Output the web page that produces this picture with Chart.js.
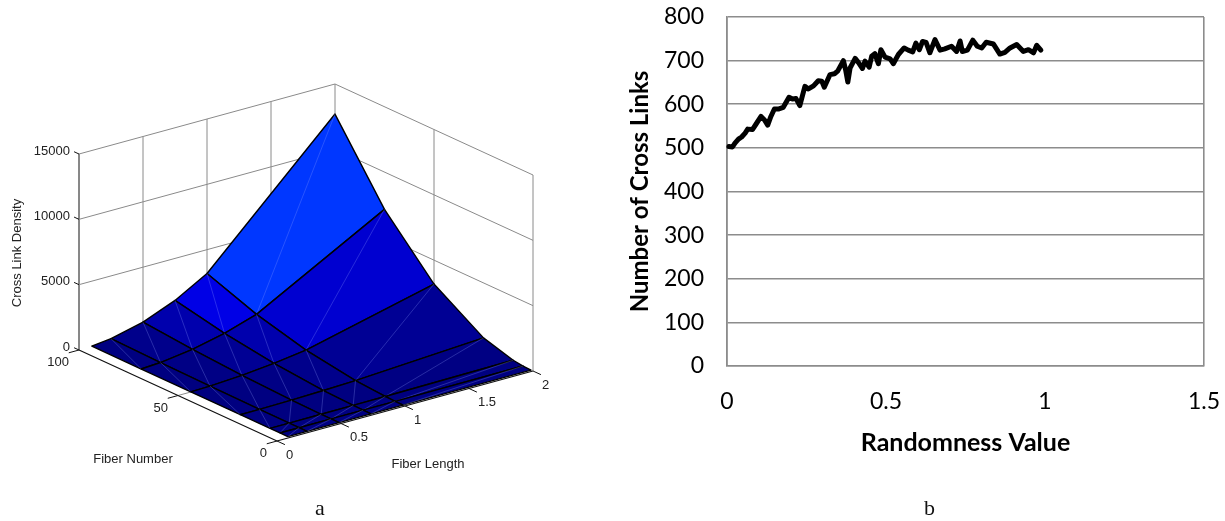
<!DOCTYPE html>
<html>
<head>
<meta charset="utf-8">
<script src="https://cdn.jsdelivr.net/npm/chart.js@4"></script>
<style>
html,body{margin:0;padding:0;background:#fff;width:1225px;height:521px;overflow:hidden}
#left{position:absolute;left:0;top:0}
#right{position:absolute;left:600px;top:0}
.cap{position:absolute;font:22px "Liberation Serif",serif;color:#111;top:495px}
</style>
</head>
<body>
<canvas id="left" width="600" height="521"></canvas>
<canvas id="right" width="625" height="521"></canvas>
<div class="cap" style="left:315px">a</div>
<div class="cap" style="left:924px">b</div>
<script>
// Panel a: surface values
const fiberLengths = [0.1, 0.25, 0.5, 0.75, 1, 2];
const fiberNumbers = [1, 5, 10, 25, 50, 75, 100];
const densityN1   = [0, 0, 0, 0, 0, 1];
const densityN5   = [0, 0, 2, 4, 8, 32];
const densityN10  = [0, 2, 8, 18, 32, 127];
const densityN25  = [2, 12, 50, 112, 198, 794];
const densityN50  = [8, 50, 198, 446, 794, 3175];
const densityN75  = [18, 112, 447, 1005, 1786, 7144];
const densityN100 = [32, 198, 794, 1786, 3175, 12700];
const densityRows = [densityN1, densityN5, densityN10, densityN25, densityN50, densityN75, densityN100];
const lengthTicks = [0, 0.5, 1, 1.5, 2];
const numberTicks = [0, 50, 100];
const densityTicks = [0, 5000, 10000, 15000];

// Panel b: line values
const randomness = [.006,.017,.025,.036,.046,.057,.065,.08,.09,.107,.118,.128,.138,.149,.161,.177,.195,.206,.217,.229,.245,.256,.272,.287,.298,.306,.324,.338,.348,.366,.373,.38,.387,.403,.413,.426,.434,.447,.455,.465,.476,.484,.497,.513,.523,.539,.557,.57,.584,.594,.605,.615,.626,.638,.654,.67,.685,.706,.722,.733,.74,.756,.773,.787,.801,.815,.838,.858,.874,.89,.911,.932,.948,.964,.974,.987];
const crossLinks = [503,502,511,520,525,534,543,542,553,572,564,552,572,589,589,593,616,612,613,597,641,635,642,654,653,639,668,670,676,700,679,651,683,705,696,682,699,685,710,716,693,725,708,704,693,714,729,724,720,740,725,744,742,718,748,724,727,733,721,745,721,724,747,733,729,742,738,715,719,729,737,721,725,718,735,724];
const xTickValues = [0, 0.5, 1, 1.5];

// Orthographic view of the 3D box
const LMAX = 2, NMAX = 100, ZMAX = 15000;
function project(L, N, Z) {
  return {
    x: 277 + (L / LMAX) * 256 - (N / NMAX) * 198,
    y: 441 - (L / LMAX) * 70 - (N / NMAX) * 91 - (Z / ZMAX) * 196
  };
}
function jet(z) {
  const t = Math.min(1, z / 10000);
  const b = t < .125 ? .5 + 4 * t : 1;
  const g = t < .125 ? 0 : Math.min(1, (t - .125) * 4);
  return `rgb(0,${Math.round(g * 255)},${Math.round(b * 255)})`;
}
function line(points, color, width, extra) {
  return Object.assign({ data: points, showLine: true, borderColor: color, borderWidth: width,
    pointRadius: 0, fill: false, tension: 0, clip: false, borderJoinStyle: 'round' }, extra || {});
}
const GRID = '#8a8a8a', AXIS = '#111';
const drawn = [];
// floor and wall grid
lengthTicks.slice(1, -1).forEach(L => {
  drawn.push(line([project(L, 0, 0), project(L, NMAX, 0)], GRID, 1));
});
drawn.push(line([project(0, 50, 0), project(LMAX, 50, 0)], GRID, 1));
lengthTicks.forEach(L => drawn.push(line([project(L, NMAX, 0), project(L, NMAX, ZMAX)], L === 0 ? AXIS : GRID, 1)));
[0, 50].forEach(N => drawn.push(line([project(LMAX, N, 0), project(LMAX, N, ZMAX)], GRID, 1)));
densityTicks.slice(1).forEach(z => {
  drawn.push(line([project(0, NMAX, z), project(LMAX, NMAX, z)], GRID, 1));
  drawn.push(line([project(LMAX, NMAX, z), project(LMAX, 0, z)], GRID, 1));
});
// axes
drawn.push(line([project(0, NMAX, 0), project(0, 0, 0), project(LMAX, 0, 0)], AXIS, 1.2));
lengthTicks.forEach(L => drawn.push(line([project(L, 0, 0), project(L, -4, 0)], AXIS, 1)));
numberTicks.forEach(N => drawn.push(line([project(0, N, 0), project(-.08, N, 0)], AXIS, 1)));
densityTicks.forEach(z => drawn.push(line([project(0, NMAX, z), project(0, NMAX + 2.5, z)], AXIS, 1)));
// surface, painted from the far corner forward
for (let j = fiberNumbers.length - 2; j >= 0; j--) {
  for (let i = fiberLengths.length - 2; i >= 0; i--) {
    const p = (a, b) => project(fiberLengths[a], fiberNumbers[b], densityRows[b][a]);
    const col = jet(densityRows[j][i]);
    drawn.push(line([p(i, j), p(i + 1, j), p(i + 1, j + 1), p(i, j + 1), p(i, j)], '#000', 1.4,
      { fill: 'shape', backgroundColor: col }));
    drawn.push(line([p(i, j), p(i + 1, j + 1)], 'rgba(150,165,255,.45)', .6));
  }
}
const axisText = {
  id: 'axisText',
  afterDatasetsDraw(chart) {
    const c = chart.ctx, sx = chart.scales.x, sy = chart.scales.y;
    const at = (P, dx, dy) => ({ x: sx.getPixelForValue(P.x) + dx, y: sy.getPixelForValue(P.y) + dy });
    c.save();
    c.font = '13px "Liberation Sans"';
    c.fillStyle = '#222';
    c.textBaseline = 'middle';
    c.textAlign = 'right';
    densityTicks.forEach(z => { const q = at(project(0, NMAX, z), -9, -3); c.fillText(String(z), q.x, q.y); });
    numberTicks.forEach(N => { const q = at(project(0, N, 0), -10, 12.5); c.fillText(String(N), q.x, q.y); });
    c.textAlign = 'left';
    lengthTicks.forEach(L => { const q = at(project(L, 0, 0), 9, 14); c.fillText(String(L), q.x, q.y); });
    c.textAlign = 'center';
    let q = at(project(0, 50, 0), -45, 64); c.fillText('Fiber Number', q.x, q.y);
    q = at(project(1, 0, 0), 23, 58); c.fillText('Fiber Length', q.x, q.y);
    c.translate(17, 253); c.rotate(-Math.PI / 2);
    c.fillText('Cross Link Density', 0, 0);
    c.restore();
  }
};
new Chart(document.getElementById('left'), {
  type: 'scatter',
  data: { datasets: drawn.reverse() },
  plugins: [axisText],
  options: {
    responsive: false, animation: false,
    layout: { padding: 0 },
    plugins: { legend: { display: false }, tooltip: { enabled: false }, filler: { drawTime: 'beforeDatasetDraw' } },
    scales: {
      x: { type: 'linear', min: 0, max: 600, display: false },
      y: { type: 'linear', min: 0, max: 521, reverse: true, display: false }
    }
  }
});

const LBL = '#000', GRIDB = '#8c8c8c';
new Chart(document.getElementById('right'), {
  type: 'scatter',
  data: { datasets: [{
    data: randomness.map((x, i) => ({ x, y: crossLinks[i] })),
    showLine: true, borderColor: '#000', borderWidth: 5, pointRadius: 0, tension: 0,
    borderJoinStyle: 'round', borderCapStyle: 'round', clip: false
  }] },
  options: {
    responsive: false, animation: false,
    layout: { padding: { left: 0, right: 21, top: 17, bottom: 0 } },
    plugins: { legend: { display: false }, tooltip: { enabled: false } },
    scales: {
      x: {
        type: 'linear', min: 0, max: 1.5,
        afterBuildTicks: s => { s.ticks = xTickValues.map(value => ({ value })); },
        afterFit: s => { s.height = 155; s.paddingLeft = 0; s.paddingRight = 0; },
        grid: { color: c => (c.tick && (c.tick.value === 0 || c.tick.value === 1.5)) ? GRIDB : 'rgba(0,0,0,0)', lineWidth: 1.6, drawTicks: false },
        border: { color: GRIDB, width: 1.6 },
        ticks: { color: LBL, font: { family: 'Lato', size: 23 }, padding: 22, maxRotation: 0, callback: v => String(v) },
        title: { display: true, text: 'Randomness Value', color: LBL, font: { family: 'Lato', size: 25, weight: 'bold' }, padding: { top: 0, bottom: 63 } }
      },
      y: {
        type: 'linear', min: 0, max: 800,
        afterFit: s => { s.width = 127; s.paddingTop = 0; s.paddingBottom = 0; },
        grid: { color: GRIDB, lineWidth: 1.6, drawTicks: false },
        border: { color: GRIDB, width: 1.6 },
        ticks: { color: LBL, font: { family: 'Lato', size: 23 }, padding: 23, stepSize: 100 },
        title: { display: true, text: 'Number of Cross Links', color: LBL, font: { family: 'Lato', size: 24, weight: 'bold' }, padding: { top: 26, bottom: 0 } }
      }
    }
  }
});
</script>
</body>
</html>
